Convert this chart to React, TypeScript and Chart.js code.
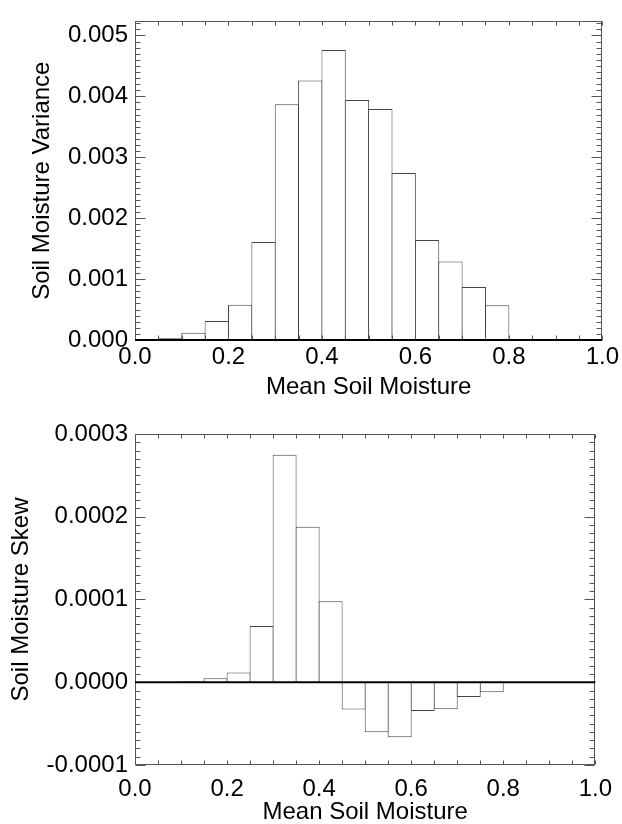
import React, { useEffect, useRef } from "react";
import { Chart, registerables } from "chart.js";

Chart.register(...registerables);

// ---- data ----
const varianceBinCenters = [0.075, 0.125, 0.175, 0.225, 0.275, 0.325, 0.375, 0.425, 0.475, 0.525, 0.575, 0.625, 0.675, 0.725, 0.775];
const varianceValues = [0.00003, 0.00012, 0.00031, 0.00058, 0.00161, 0.00387, 0.00426, 0.00476, 0.00394, 0.00379, 0.00274, 0.00164, 0.00129, 0.00087, 0.00057];

const skewBinCenters = [0.125, 0.175, 0.225, 0.275, 0.325, 0.375, 0.425, 0.475, 0.525, 0.575, 0.625, 0.675, 0.725, 0.775];
const skewValues = [0.0000012, 0.0000048, 0.0000117, 0.000068, 0.000275, 0.000188, 0.0000978, -0.000033, -0.0000604, -0.0000664, -0.0000346, -0.0000326, -0.0000177, -0.0000121];

const xTickValues = [0.0, 0.2, 0.4, 0.6, 0.8, 1.0];
const varianceTickValues = [0.0, 0.001, 0.002, 0.003, 0.004, 0.005];
const skewTickValues = [-0.0001, 0.0, 0.0001, 0.0002, 0.0003];

const xTitle = "Mean Soil Moisture";
const varianceTitle = "Soil Moisture Variance";
const skewTitle = "Soil Moisture Skew";

const FONT = "'Liberation Sans', Arial, Helvetica, sans-serif";

const framePlugin = {
  id: "idlFrame",
  afterDatasetsDraw(chart: any, _args: any, opts: any) {
    const { ctx, chartArea: a, scales } = chart;
    const xs = scales.x;
    const ys = scales.y;
    const L = Math.round(a.left) + 0.5;
    const R = Math.round(a.right) - 0.5;
    const T = Math.round(a.top) + 0.5;
    const B = Math.round(a.bottom) - 0.5;
    ctx.save();
    ctx.strokeStyle = "#555";
    ctx.lineWidth = 1;
    ctx.beginPath();
    // x ticks
    const xMinor = opts.xMinor;
    const nx0 = Math.ceil(xs.min / xMinor - 1e-6);
    const nx1 = Math.floor(xs.max / xMinor + 1e-6);
    for (let n = nx0; n <= nx1; n++) {
      const px = Math.round(xs.getPixelForValue(n * xMinor)) + 0.5;
      ctx.moveTo(px, B);
      ctx.lineTo(px, B - 4);
      ctx.moveTo(px, T);
      ctx.lineTo(px, T + 4);
    }
    // y ticks
    const yMinor = opts.yMinor;
    const per = opts.yMinorPerMajor;
    const ny0 = Math.ceil(ys.min / yMinor - 1e-6);
    const ny1 = Math.floor(ys.max / yMinor + 1e-6);
    for (let n = ny0; n <= ny1; n++) {
      const py = Math.round(ys.getPixelForValue(n * yMinor)) + 0.5;
      const len = n % per === 0 ? 10 : 5;
      ctx.moveTo(L, py);
      ctx.lineTo(L + len, py);
      ctx.moveTo(R, py);
      ctx.lineTo(R - len, py);
    }
    ctx.stroke();
    ctx.strokeRect(L, T, R - L, B - T);
    // zero line
    const zy = ys.getPixelForValue(0);
    ctx.strokeStyle = "#000";
    ctx.lineWidth = 2;
    ctx.beginPath();
    ctx.moveTo(a.left, zy);
    ctx.lineTo(a.right, zy);
    ctx.stroke();
    ctx.restore();
  },
};

type PanelProps = {
  top: number;
  centers: number[];
  values: number[];
  yMin: number;
  yMax: number;
  yTicks: number[];
  decimals: number;
  yTitle: string;
  yTitlePad: number;
  yMinor: number;
  padTop: number;
  xAxisHeight: number;
  xTickPad: number;
  xTitlePad: number;
};

function HistPanel(p: PanelProps) {
  const ref = useRef<HTMLCanvasElement>(null);
  useEffect(() => {
    const chart = new Chart(ref.current as HTMLCanvasElement, {
      type: "bar",
      data: {
        datasets: [
          {
            data: p.centers.map((x, i) => ({ x, y: p.values[i] })) as any,
            backgroundColor: "#ffffff",
            borderColor: "#444",
            borderWidth: 1,
            borderSkipped: "start",
            barPercentage: 1.04,
            categoryPercentage: 1,
            inflateAmount: 0,
          } as any,
        ],
      },
      options: {
        responsive: false,
        animation: false,
        devicePixelRatio: 1,
        layout: { padding: { top: p.padTop, right: 19, left: 0, bottom: 0 } },
        plugins: {
          legend: { display: false },
          tooltip: { enabled: false },
          idlFrame: { xMinor: 0.05, yMinor: p.yMinor, yMinorPerMajor: 10 },
        } as any,
        scales: {
          x: {
            type: "linear",
            min: 0,
            max: 1,
            offset: false,
            grid: { display: false, drawTicks: false },
            border: { display: false },
            afterBuildTicks: (s: any) => {
              s.ticks = xTickValues.map((v) => ({ value: v }));
            },
            afterFit: (s: any) => {
              s.height = p.xAxisHeight;
            },
            ticks: {
              padding: p.xTickPad,
              maxRotation: 0,
              autoSkip: false,
              color: "#000",
              font: { family: FONT, size: 24 },
              callback: (v: any) => Number(v).toFixed(1),
            },
            title: {
              display: true,
              text: xTitle,
              color: "#000",
              font: { family: FONT, size: 24, lineHeight: 1 },
              padding: { top: 0, bottom: p.xTitlePad },
            },
          } as any,
          y: {
            type: "linear",
            min: p.yMin,
            max: p.yMax,
            grid: { display: false, drawTicks: false },
            border: { display: false },
            afterBuildTicks: (s: any) => {
              s.ticks = p.yTicks.map((v) => ({ value: v }));
            },
            afterFit: (s: any) => {
              s.width = 135;
            },
            ticks: {
              padding: 7,
              color: "#000",
              font: { family: FONT, size: 24 },
              callback: (v: any) => Number(v).toFixed(p.decimals),
            },
            title: {
              display: true,
              text: p.yTitle,
              color: "#000",
              font: { family: FONT, size: 24, lineHeight: 1 },
              padding: { top: p.yTitlePad, bottom: 0 },
            },
          } as any,
        },
      },
      plugins: [framePlugin as any],
    });
    return () => chart.destroy();
  }, []);
  return (
    <canvas
      ref={ref}
      width={622}
      height={412}
      style={{ position: "absolute", left: 0, top: p.top, width: 622, height: 412 }}
    />
  );
}

export default function App() {
  return (
    <div style={{ position: "absolute", left: 0, top: 0, width: 622, height: 824, background: "#fff" }}>
      <HistPanel
        top={0}
        centers={varianceBinCenters}
        values={varianceValues}
        yMin={0}
        yMax={0.00523}
        yTicks={varianceTickValues}
        decimals={3}
        yTitle={varianceTitle}
        yTitlePad={30}
        yMinor={0.0001}
        padTop={9}
        xAxisHeight={72}
        xTickPad={3}
        xTitlePad={13}
      />
      <HistPanel
        top={412}
        centers={skewBinCenters}
        values={skewValues}
        yMin={-0.0001}
        yMax={0.0003}
        yTicks={skewTickValues}
        decimals={4}
        yTitle={skewTitle}
        yTitlePad={9}
        yMinor={0.00001}
        padTop={22}
        xAxisHeight={59}
        xTickPad={10}
        xTitlePad={0}
      />
    </div>
  );
}
